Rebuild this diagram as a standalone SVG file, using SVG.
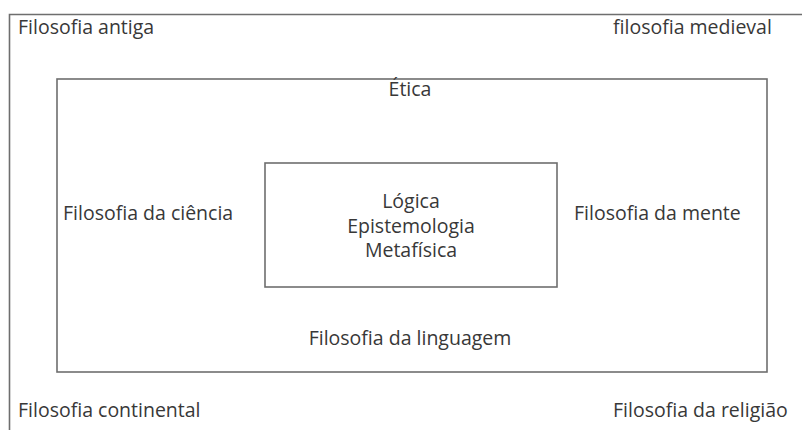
<svg xmlns="http://www.w3.org/2000/svg" width="802" height="430" viewBox="0 0 802 430">
<style>
.frame{fill:none;stroke:#6e6e6e;stroke-width:1.6}
.t{font-family:"Open Sans","Liberation Sans",sans-serif;font-size:19.5px;fill:#383838}
.c{text-anchor:middle}
</style>
<rect width="802" height="430" fill="#ffffff"/>
<g id="outer">
<polyline class="frame" points="9.5,430 9.5,14.5 802,14.5"/>
<text class="t" x="18" y="34">Filosofia antiga</text>
<text class="t" x="613" y="34">filosofia medieval</text>
<text class="t" x="18" y="417">Filosofia continental</text>
<text class="t" x="613" y="417">Filosofia da religião</text>
</g>
<g id="middle">
<rect class="frame" x="57" y="79" width="710" height="293"/>
<text class="t c" x="410" y="96">Ética</text>
<text class="t" x="63" y="220">Filosofia da ciência</text>
<text class="t" x="574" y="220">Filosofia da mente</text>
<text class="t c" x="410" y="345">Filosofia da linguagem</text>
</g>
<g id="core">
<rect class="frame" x="265" y="163" width="292" height="124"/>
<text class="t c" x="411" y="208">Lógica<tspan x="411" dy="24.5">Epistemologia</tspan><tspan x="411" dy="24.5">Metafísica</tspan></text>
</g>
</svg>
